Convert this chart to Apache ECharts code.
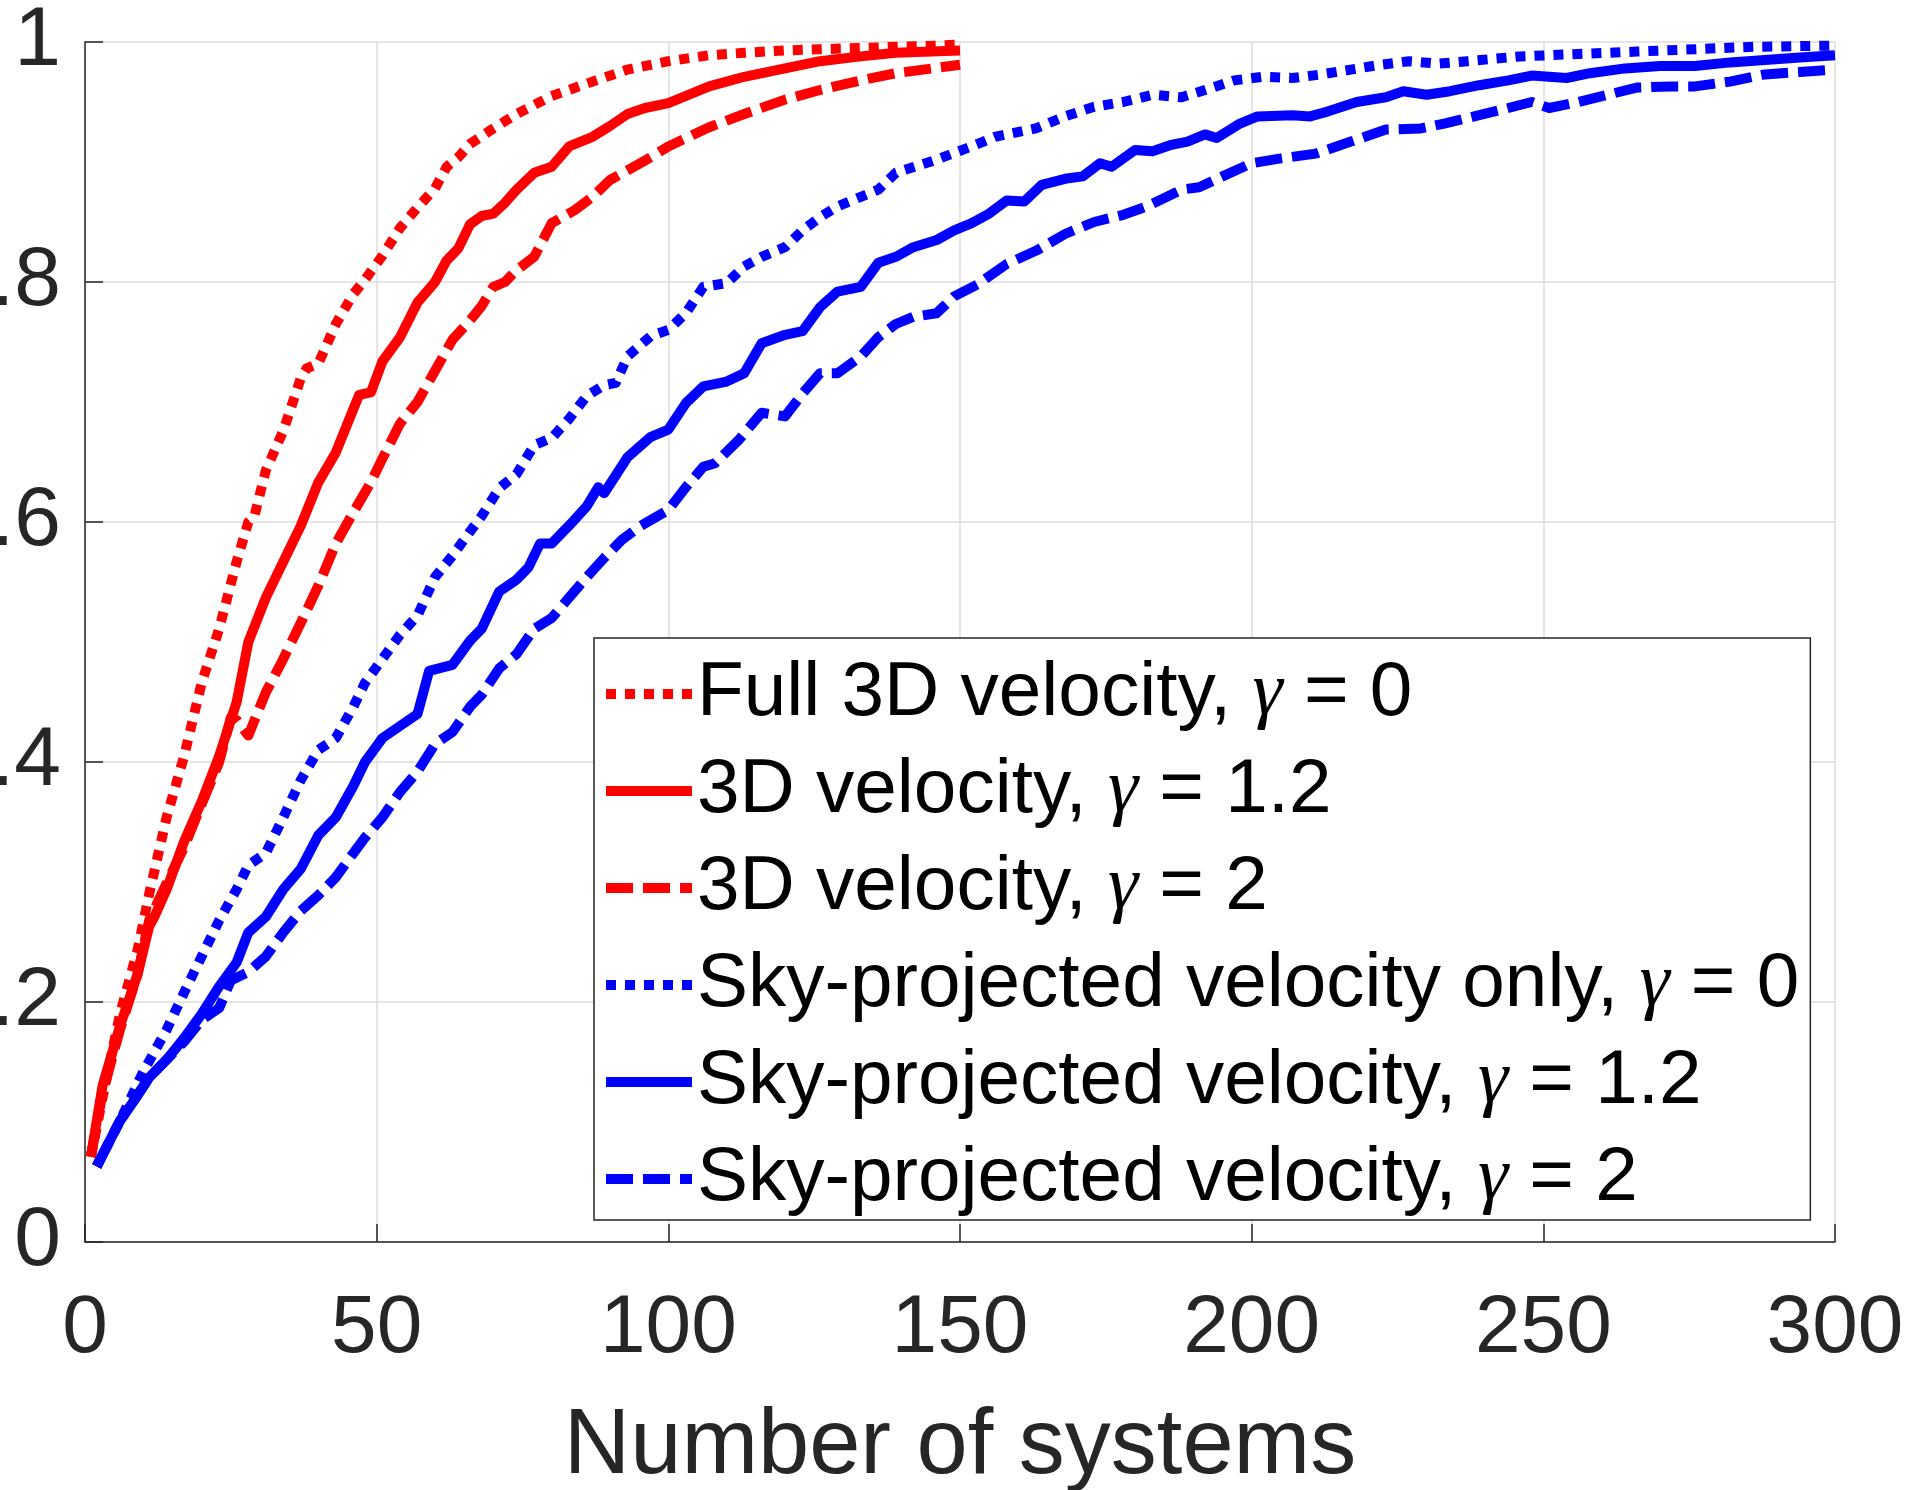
<!DOCTYPE html>
<html>
<head>
<meta charset="utf-8">
<script src="https://cdn.jsdelivr.net/npm/echarts@6/dist/echarts.min.js"></script>
<style>html,body{margin:0;padding:0;background:#fff}#c{width:1908px;height:1490px}</style>
</head>
<body>
<div id="c"></div>
<script>
// ---- data ----
const xTicks = [0, 50, 100, 150, 200, 250, 300];
const yTicks = [0, 0.2, 0.4, 0.6, 0.8, 1];
const yTickLabels = ['0', '0.2', '0.4', '0.6', '0.8', '1'];
const xAxisTitle = 'Number of systems';
const seriesNames = [
  'Full 3D velocity, γ = 0',
  '3D velocity, γ = 1.2',
  '3D velocity, γ = 2',
  'Sky-projected velocity only, γ = 0',
  'Sky-projected velocity, γ = 1.2',
  'Sky-projected velocity, γ = 2'
];

const r0X = [1, 3, 6, 9, 11, 14, 17, 20, 23, 26, 28, 29, 31, 34, 37, 38, 40, 43, 46, 48, 51, 54, 57, 60, 62, 64, 66, 70, 74, 80, 87, 93, 100, 107, 113, 120, 126, 133, 139, 146, 150];
const r0Y = [0.071, 0.120, 0.190, 0.243, 0.290, 0.354, 0.405, 0.466, 0.511, 0.567, 0.600, 0.604, 0.643, 0.676, 0.720, 0.728, 0.732, 0.765, 0.790, 0.802, 0.822, 0.845, 0.862, 0.878, 0.896, 0.904, 0.915, 0.928, 0.940, 0.955, 0.967, 0.977, 0.984, 0.989, 0.991, 0.993, 0.994, 0.995, 0.996, 0.997, 0.998];

const r12X = [1, 3, 6, 9, 11, 12, 14, 17, 20, 23, 26, 28, 31, 34, 37, 40, 43, 46, 47, 49, 51, 54, 57, 60, 62, 64, 66, 68, 70, 72, 74, 77, 80, 83, 87, 90, 93, 96, 100, 107, 113, 120, 126, 133, 139, 150];
const r12Y = [0.071, 0.130, 0.180, 0.223, 0.263, 0.272, 0.294, 0.334, 0.367, 0.405, 0.450, 0.500, 0.537, 0.567, 0.597, 0.633, 0.658, 0.694, 0.706, 0.708, 0.734, 0.754, 0.783, 0.800, 0.818, 0.828, 0.848, 0.855, 0.857, 0.866, 0.877, 0.891, 0.896, 0.913, 0.921, 0.930, 0.940, 0.945, 0.949, 0.963, 0.971, 0.978, 0.984, 0.988, 0.991, 0.993];

const r2X = [1, 3, 6, 9, 11, 14, 17, 20, 23, 25, 26, 28, 31, 34, 37, 40, 43, 46, 49, 51, 54, 57, 60, 63, 66, 68, 70, 72, 74, 77, 80, 84, 87, 90, 93, 97, 100, 107, 113, 120, 126, 133, 139, 150];
const r2Y = [0.071, 0.124, 0.177, 0.223, 0.268, 0.299, 0.329, 0.365, 0.400, 0.437, 0.435, 0.422, 0.458, 0.486, 0.516, 0.547, 0.582, 0.608, 0.633, 0.653, 0.682, 0.700, 0.726, 0.752, 0.768, 0.780, 0.796, 0.800, 0.810, 0.821, 0.849, 0.860, 0.871, 0.885, 0.893, 0.904, 0.913, 0.929, 0.940, 0.952, 0.960, 0.968, 0.974, 0.981];

const b0X = [2, 6, 10, 14, 17, 20, 23, 26, 28, 31, 34, 37, 40, 43, 46, 48, 51, 54, 57, 60, 63, 66, 68, 71, 74, 77, 80, 83, 86, 89, 91, 93, 97, 100, 103, 106, 110, 113, 116, 120, 123, 126, 129, 133, 136, 139, 146, 152, 156, 163, 168, 173, 178, 183, 188, 192, 197, 202, 207, 212, 217, 222, 227, 232, 237, 246, 256, 266, 276, 286, 300];
const b0Y = [0.063, 0.101, 0.142, 0.177, 0.208, 0.238, 0.268, 0.294, 0.314, 0.324, 0.354, 0.385, 0.410, 0.420, 0.446, 0.466, 0.486, 0.506, 0.522, 0.554, 0.572, 0.592, 0.605, 0.628, 0.640, 0.664, 0.670, 0.686, 0.705, 0.714, 0.716, 0.738, 0.755, 0.760, 0.774, 0.796, 0.799, 0.813, 0.821, 0.829, 0.843, 0.854, 0.863, 0.871, 0.877, 0.891, 0.902, 0.913, 0.921, 0.928, 0.938, 0.946, 0.950, 0.956, 0.954, 0.960, 0.968, 0.971, 0.970, 0.973, 0.977, 0.981, 0.984, 0.982, 0.984, 0.988, 0.990, 0.992, 0.994, 0.996, 0.997];

const b12X = [2, 6, 9, 11, 14, 17, 20, 23, 26, 28, 31, 34, 37, 40, 43, 46, 48, 51, 54, 57, 59, 63, 66, 68, 71, 74, 76, 78, 80, 83, 86, 88, 89, 93, 97, 100, 103, 106, 110, 113, 116, 120, 123, 126, 129, 133, 136, 139, 142, 146, 149, 152, 155, 158, 161, 164, 168, 171, 174, 176, 180, 183, 186, 189, 192, 194, 198, 201, 207, 210, 213, 218, 223, 226, 230, 234, 239, 244, 248, 251, 254, 258, 264, 270, 276, 282, 288, 294, 300];
const b12Y = [0.063, 0.101, 0.122, 0.137, 0.152, 0.170, 0.190, 0.213, 0.233, 0.258, 0.271, 0.294, 0.311, 0.339, 0.354, 0.380, 0.400, 0.420, 0.430, 0.440, 0.476, 0.481, 0.501, 0.511, 0.542, 0.552, 0.562, 0.582, 0.582, 0.597, 0.613, 0.629, 0.624, 0.654, 0.671, 0.677, 0.699, 0.713, 0.717, 0.724, 0.749, 0.756, 0.759, 0.779, 0.792, 0.796, 0.816, 0.821, 0.829, 0.835, 0.843, 0.849, 0.857, 0.868, 0.867, 0.881, 0.886, 0.888, 0.899, 0.896, 0.910, 0.909, 0.914, 0.917, 0.923, 0.920, 0.932, 0.938, 0.939, 0.938, 0.942, 0.950, 0.954, 0.959, 0.956, 0.959, 0.964, 0.968, 0.972, 0.971, 0.970, 0.974, 0.978, 0.980, 0.980, 0.983, 0.985, 0.987, 0.989];

const b2X = [2, 6, 11, 17, 20, 23, 25, 28, 31, 34, 37, 40, 43, 46, 48, 51, 54, 57, 60, 63, 66, 68, 71, 74, 77, 80, 83, 86, 89, 92, 95, 100, 103, 106, 108, 112, 116, 120, 123, 126, 129, 133, 136, 139, 142, 146, 149, 153, 158, 163, 168, 173, 178, 182, 188, 191, 195, 200, 205, 211, 217, 223, 229, 233, 239, 244, 248, 251, 256, 261, 266, 272, 276, 282, 288, 294, 300];
const b2Y = [0.063, 0.101, 0.137, 0.167, 0.185, 0.195, 0.218, 0.225, 0.238, 0.258, 0.276, 0.289, 0.304, 0.324, 0.337, 0.354, 0.375, 0.392, 0.415, 0.425, 0.446, 0.456, 0.478, 0.490, 0.511, 0.520, 0.537, 0.554, 0.570, 0.585, 0.596, 0.610, 0.629, 0.646, 0.649, 0.668, 0.691, 0.688, 0.707, 0.724, 0.724, 0.738, 0.754, 0.765, 0.771, 0.774, 0.788, 0.798, 0.815, 0.826, 0.840, 0.850, 0.856, 0.863, 0.877, 0.879, 0.888, 0.899, 0.903, 0.907, 0.917, 0.927, 0.928, 0.932, 0.939, 0.945, 0.950, 0.945, 0.950, 0.956, 0.962, 0.963, 0.963, 0.967, 0.973, 0.975, 0.977];

// ---- chart ----
const FONT = 'Liberation Sans';
const RED = '#ff0000', BLUE = '#0000ff';
const DOT = [10, 9], DASH = [27, 10], LW = 10;
function pairs(xs, ys) { return xs.map((x, i) => [x, ys[i]]); }
function line(name, xs, ys, color, type) {
  return {
    name: name, type: 'line', data: pairs(xs, ys),
    symbol: 'none', showSymbol: false, smooth: false, clip: true,
    lineStyle: { color: color, width: LW, type: type, cap: 'butt', join: 'round' },
    itemStyle: { color: color },
    emphasis: { disabled: true }
  };
}

const chart = echarts.init(document.getElementById('c'), null, { renderer: 'canvas' });
chart.setOption({
  animation: false,
  backgroundColor: '#ffffff',
  grid: { left: 85, right: 73, top: 42, bottom: 248, containLabel: false, outerBoundsMode: 'none' },
  xAxis: {
    type: 'value', min: xTicks[0], max: xTicks[xTicks.length - 1], interval: xTicks[1] - xTicks[0],
    name: xAxisTitle, nameLocation: 'middle', nameGap: 160,
    nameTextStyle: { fontFamily: FONT, fontSize: 92, color: '#262626' },
    axisLine: { show: true, onZero: false, lineStyle: { color: '#262626', width: 1.5 } },
    axisTick: { show: true, inside: true, length: 18, lineStyle: { color: '#262626', width: 1.5 } },
    axisLabel: { margin: 46, fontFamily: FONT, fontSize: 82, color: '#262626', formatter: v => String(v) },
    splitLine: { show: true, lineStyle: { color: '#dcdcdc', width: 1.5 } }
  },
  yAxis: {
    type: 'value', min: yTicks[0], max: yTicks[yTicks.length - 1], interval: yTicks[1] - yTicks[0],
    axisLine: { show: true, onZero: false, lineStyle: { color: '#262626', width: 1.5 } },
    axisTick: { show: true, inside: true, length: 18, lineStyle: { color: '#262626', width: 1.5 } },
    axisLabel: {
      margin: 24, fontFamily: FONT, fontSize: 84, color: '#262626',
      formatter: v => { const i = yTicks.findIndex(t => Math.abs(t - v) < 1e-9); return i >= 0 ? yTickLabels[i] : ''; }
    },
    splitLine: { show: true, lineStyle: { color: '#dcdcdc', width: 1.5 } }
  },
  legend: {
    orient: 'vertical', left: 594, top: 638,
    padding: [16, 11, 1, 7],
    itemWidth: 86, itemHeight: 20, itemGap: 17,
    borderColor: '#262626', borderWidth: 1.5, backgroundColor: '#ffffff',
    selectedMode: false,
    itemStyle: { opacity: 0 },
    lineStyle: { width: LW, opacity: 1 },
    textStyle: {
      fontFamily: FONT, fontSize: 76.5, color: '#000', lineHeight: 80,
      rich: { g: { fontFamily: 'Liberation Serif', fontStyle: 'italic', fontSize: 76.5, lineHeight: 80, color: '#000' } }
    },
    formatter: n => n.replace('γ', '{g|γ}'),
    data: seriesNames
  },
  series: [
    line(seriesNames[0], r0X, r0Y, RED, DOT),
    line(seriesNames[1], r12X, r12Y, RED, 'solid'),
    line(seriesNames[2], r2X, r2Y, RED, DASH),
    line(seriesNames[3], b0X, b0Y, BLUE, DOT),
    line(seriesNames[4], b12X, b12Y, BLUE, 'solid'),
    line(seriesNames[5], b2X, b2Y, BLUE, DASH)
  ]
});
</script>
</body>
</html>
